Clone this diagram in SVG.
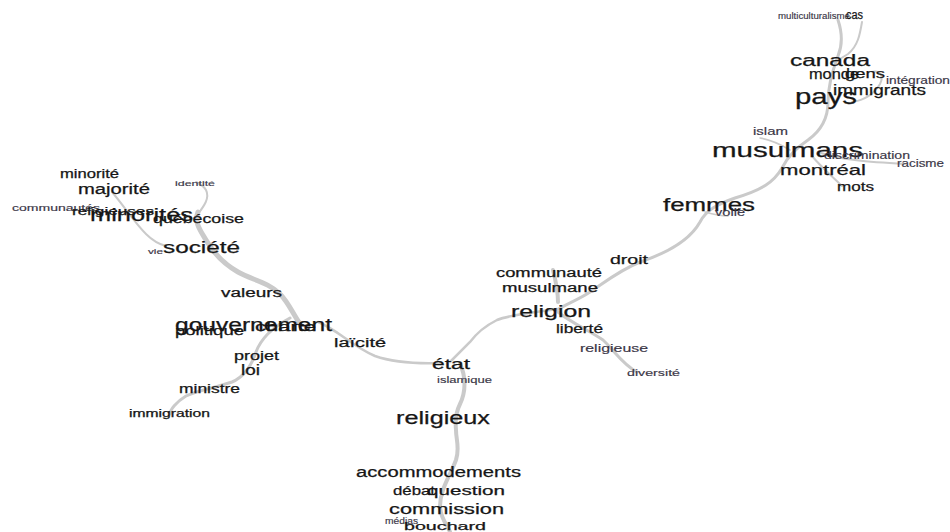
<svg xmlns="http://www.w3.org/2000/svg" width="950" height="532" viewBox="0 0 950 532">
<style>
text{font-family:"Liberation Sans",Arial,sans-serif;fill:#161616;stroke:#161616;stroke-width:0.25;}
.s{fill:#3a3646;stroke:#3a3646;stroke-width:0.15;}
.e{fill:none;stroke:#cacaca;stroke-linecap:round;}
</style>
<rect width="950" height="532" fill="#fff"/>
<g id="edges">
<path class="e" stroke-width="3" d="M838,20 C842,32 843,44 838,56 C832,72 828,88 828,102 C828,118 822,130 808,140 C796,148 788,156 782,168 C774,182 762,190 735,198 C718,204 706,210 700,222 C690,240 670,252 640,262 C620,270 605,282 590,292 C578,300 566,304 557,310"/>
<path class="e" stroke-width="2" d="M862,22 C860,34 858,46 848,54 C842,58 838,60 834,62"/>
<path class="e" stroke-width="2" d="M852,102 C866,100 874,94 880,84 C884,76 880,70 872,72"/>
<path class="e" stroke-width="1.5" d="M760,138 C772,140 780,144 790,150"/>
<path class="e" stroke-width="2" d="M818,152 C840,160 870,162 905,164"/>
<path class="e" stroke-width="2" d="M812,156 C822,168 832,176 842,186"/>
<path class="e" stroke-width="1.5" d="M705,212 C712,214 720,216 728,216"/>
<path class="e" stroke-width="4" d="M553,270 C556,282 558,292 558,302"/>
<path class="e" stroke-width="3" d="M558,312 C570,322 588,330 603,340 C614,350 622,364 637,372"/>
<path class="e" stroke-width="2.5" d="M557,309 C540,312 512,314 497,320 C485,326 476,334 470,342 C462,350 456,356 450,362"/>
<path class="e" stroke-width="2.5" d="M318,322 C338,330 352,346 375,356 C392,362 410,364 440,363"/>
<path class="e" stroke-width="4" d="M460,364 C466,376 466,392 460,404 C456,412 455,420 456,430 C456,440 460,448 456,460 C450,476 440,490 440,506 C440,518 448,526 450,532"/>
<path class="e" stroke-width="5" d="M300,324 C292,312 288,302 280,294 C268,282 252,280 238,272 C224,264 214,254 206,240 C200,230 194,222 198,212"/>
<path class="e" stroke-width="2" d="M198,214 C204,206 210,198 206,190 C204,186 200,184 196,182"/>
<path class="e" stroke-width="2" d="M112,192 C124,206 134,222 146,234 C152,240 158,244 166,246"/>
<path class="e" stroke-width="3" d="M290,318 C275,326 262,336 256,352 C252,364 246,376 232,382 C215,388 198,390 186,396 C176,402 170,410 170,414"/>
</g>
<g id="n-multiculturalisme"><text class="s" x="778" y="19" font-size="9" textLength="72" lengthAdjust="spacingAndGlyphs">multiculturalisme</text></g>
<g id="n-cas"><text x="846" y="19" font-size="12" textLength="17" lengthAdjust="spacingAndGlyphs">cas</text></g>
<g id="n-canada"><text x="790" y="66" font-size="16" textLength="80" lengthAdjust="spacingAndGlyphs">canada</text></g>
<g id="n-monde"><text x="809" y="79" font-size="15" textLength="50" lengthAdjust="spacingAndGlyphs">monde</text></g>
<g id="n-gens"><text x="845" y="78" font-size="13" textLength="40" lengthAdjust="spacingAndGlyphs">gens</text></g>
<g id="n-integration"><text class="s" x="886" y="84" font-size="10" textLength="64" lengthAdjust="spacingAndGlyphs">intégration</text></g>
<g id="n-immigrants"><text x="833" y="95" font-size="14" textLength="93" lengthAdjust="spacingAndGlyphs">immigrants</text></g>
<g id="n-pays"><text x="795" y="104" font-size="22" textLength="62" lengthAdjust="spacingAndGlyphs">pays</text></g>
<g id="n-islam"><text class="s" x="753" y="135" font-size="10" textLength="35" lengthAdjust="spacingAndGlyphs">islam</text></g>
<g id="n-musulmans"><text x="712" y="157" font-size="21" textLength="151" lengthAdjust="spacingAndGlyphs">musulmans</text></g>
<g id="n-discrimination"><text class="s" x="824" y="159" font-size="10" textLength="86" lengthAdjust="spacingAndGlyphs">discrimination</text></g>
<g id="n-racisme"><text class="s" x="897" y="167" font-size="10" textLength="47" lengthAdjust="spacingAndGlyphs">racisme</text></g>
<g id="n-montreal"><text x="780" y="175" font-size="15" textLength="86" lengthAdjust="spacingAndGlyphs">montréal</text></g>
<g id="n-mots"><text x="837" y="191" font-size="12" textLength="37" lengthAdjust="spacingAndGlyphs">mots</text></g>
<g id="n-femmes"><text x="663" y="211" font-size="18" textLength="92" lengthAdjust="spacingAndGlyphs">femmes</text></g>
<g id="n-voile"><text class="s" x="715" y="216" font-size="10" textLength="30" lengthAdjust="spacingAndGlyphs">voile</text></g>
<g id="n-droit"><text x="610" y="264" font-size="13" textLength="38" lengthAdjust="spacingAndGlyphs">droit</text></g>
<g id="n-communaute"><text x="496" y="277" font-size="12" textLength="106" lengthAdjust="spacingAndGlyphs">communauté</text></g>
<g id="n-musulmane"><text x="502" y="292" font-size="12" textLength="96" lengthAdjust="spacingAndGlyphs">musulmane</text></g>
<g id="n-religion"><text x="511" y="317" font-size="16" textLength="80" lengthAdjust="spacingAndGlyphs">religion</text></g>
<g id="n-liberte"><text x="556" y="333" font-size="12" textLength="47" lengthAdjust="spacingAndGlyphs">liberté</text></g>
<g id="n-religieuse"><text class="s" x="580" y="352" font-size="10" textLength="68" lengthAdjust="spacingAndGlyphs">religieuse</text></g>
<g id="n-diversite"><text class="s" x="627" y="376" font-size="9" textLength="53" lengthAdjust="spacingAndGlyphs">diversité</text></g>
<g id="n-etat"><text x="432" y="369" font-size="14" textLength="38" lengthAdjust="spacingAndGlyphs">état</text></g>
<g id="n-islamique"><text class="s" x="437" y="383" font-size="9" textLength="55" lengthAdjust="spacingAndGlyphs">islamique</text></g>
<g id="n-religieux"><text x="396" y="424" font-size="18" textLength="94" lengthAdjust="spacingAndGlyphs">religieux</text></g>
<g id="n-accommodements"><text x="356" y="477" font-size="14" textLength="165" lengthAdjust="spacingAndGlyphs">accommodements</text></g>
<g id="n-debat"><text x="393" y="495" font-size="12" textLength="42" lengthAdjust="spacingAndGlyphs">débat</text></g>
<g id="n-question"><text x="427" y="495" font-size="13" textLength="78" lengthAdjust="spacingAndGlyphs">question</text></g>
<g id="n-commission"><text x="389" y="514" font-size="15" textLength="115" lengthAdjust="spacingAndGlyphs">commission</text></g>
<g id="n-medias"><text class="s" x="385" y="524" font-size="9" textLength="33" lengthAdjust="spacingAndGlyphs">médias</text></g>
<g id="n-bouchard"><text x="404" y="530" font-size="11" textLength="82" lengthAdjust="spacingAndGlyphs">bouchard</text></g>
<g id="n-minorite"><text x="60" y="178" font-size="12" textLength="59" lengthAdjust="spacingAndGlyphs">minorité</text></g>
<g id="n-majorite"><text x="78" y="194" font-size="14" textLength="72" lengthAdjust="spacingAndGlyphs">majorité</text></g>
<g id="n-identite"><text class="s" x="175" y="186" font-size="8" textLength="40" lengthAdjust="spacingAndGlyphs">identité</text></g>
<g id="n-communautes"><text class="s" x="12" y="211" font-size="9" textLength="88" lengthAdjust="spacingAndGlyphs">communautés</text></g>
<g id="n-religieuses"><text x="72" y="215" font-size="11" textLength="82" lengthAdjust="spacingAndGlyphs">religieuses</text></g>
<g id="n-minorites"><text x="90" y="221" font-size="18" textLength="103" lengthAdjust="spacingAndGlyphs">minorités</text></g>
<g id="n-quebecoise"><text x="153" y="223" font-size="12" textLength="91" lengthAdjust="spacingAndGlyphs">québécoise</text></g>
<g id="n-vie"><text class="s" x="148" y="254" font-size="8" textLength="15" lengthAdjust="spacingAndGlyphs">vie</text></g>
<g id="n-societe"><text x="163" y="253" font-size="16" textLength="77" lengthAdjust="spacingAndGlyphs">société</text></g>
<g id="n-valeurs"><text x="221" y="297" font-size="12" textLength="61" lengthAdjust="spacingAndGlyphs">valeurs</text></g>
<g id="n-gouvernement"><text x="175" y="331" font-size="18" textLength="157" lengthAdjust="spacingAndGlyphs">gouvernement</text></g>
<g id="n-politique"><text x="175" y="335" font-size="12" textLength="69" lengthAdjust="spacingAndGlyphs">politique</text></g>
<g id="n-charte"><text x="255" y="331" font-size="12" textLength="61" lengthAdjust="spacingAndGlyphs">charte</text></g>
<g id="n-laicite"><text x="334" y="347" font-size="12" textLength="52" lengthAdjust="spacingAndGlyphs">laïcité</text></g>
<g id="n-projet"><text x="234" y="360" font-size="12" textLength="45" lengthAdjust="spacingAndGlyphs">projet</text></g>
<g id="n-loi"><text x="241" y="375" font-size="14" textLength="19" lengthAdjust="spacingAndGlyphs">loi</text></g>
<g id="n-ministre"><text x="179" y="393" font-size="12" textLength="61" lengthAdjust="spacingAndGlyphs">ministre</text></g>
<g id="n-immigration"><text x="129" y="417" font-size="10" textLength="81" lengthAdjust="spacingAndGlyphs">immigration</text></g>
</svg>
